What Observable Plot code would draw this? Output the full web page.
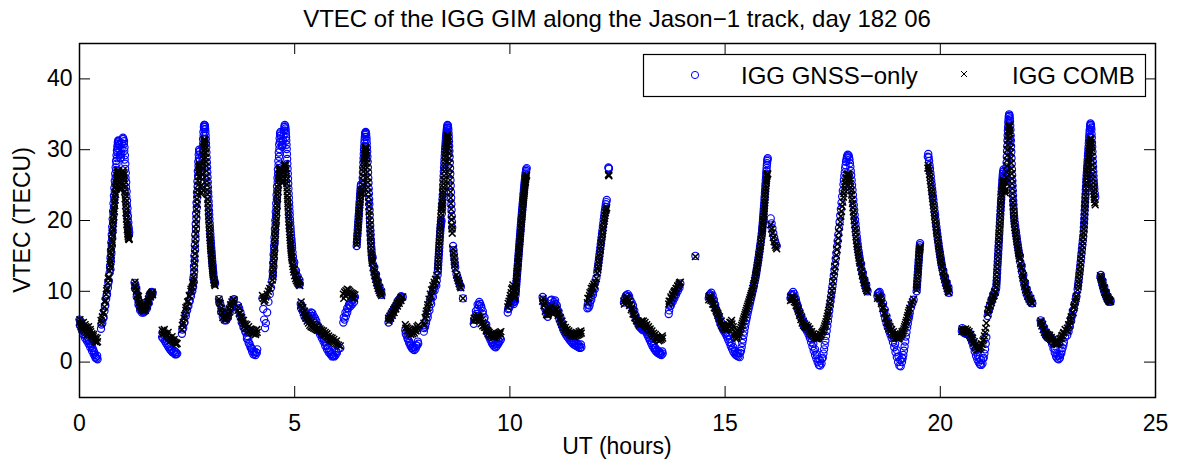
<!DOCTYPE html>
<html>
<head>
<meta charset="utf-8">
<script src="https://cdn.jsdelivr.net/npm/d3@7"></script>
<script src="https://cdn.jsdelivr.net/npm/@observablehq/plot@0.6"></script>
<style>
  html, body { margin: 0; padding: 0; background: #fff; }
  #chart { width: 1178px; height: 461px; }
  svg { font-family: "Liberation Sans", Arial, sans-serif; }
</style>
</head>
<body>
<div id="chart"></div>
<script>
// ---- texts ----
const titleText = "VTEC of the IGG GIM along the Jason\u22121 track, day 182 06";
const xLabel = "UT (hours)";
const yLabel = "VTEC (TECU)";
const seriesNames = ["IGG GNSS\u2212only", "IGG COMB"];
const xTicks = [0, 5, 10, 15, 20, 25];
const yTicks = [0, 10, 20, 30, 40];

// ---- data: [UT hours, GNSS-only VTEC, COMB VTEC] per Jason-1 pass ----
const pass01 = [[0.00,6.0,5.6],[0.02,5.8,5.3],[0.04,5.4,5.0],[0.06,5.0,4.6],[0.08,4.6,5.1],[0.10,4.3,4.8],[0.12,3.9,4.4],[0.14,4.3,5.0],[0.16,3.6,4.2],[0.18,3.2,3.9],[0.20,3.5,4.6],[0.22,3.0,4.1],[0.24,2.7,3.8],[0.26,2.5,4.3],[0.28,2.3,3.7],[0.30,2.0,3.4],[0.32,1.7,3.6],[0.34,1.4,3.2],[0.36,1.0,2.9],[0.38,0.7,3.1],[0.40,0.5,2.8],[0.42,0.4,2.9]];
const pass02 = [[0.50,4.7,5.9],[0.53,5.5,6.4],[0.56,6.3,7.0],[0.58,7.2,7.8],[0.60,8.0,8.7],[0.62,8.9,9.6],[0.64,9.6,10.4],[0.66,10.5,11.2],[0.68,11.5,12.0],[0.70,12.6,12.9],[0.71,13.6,13.8],[0.72,14.7,14.6],[0.73,15.8,15.5],[0.74,16.9,16.4],[0.75,18.0,17.3],[0.76,19.1,18.2],[0.77,20.2,19.1],[0.78,21.3,20.0],[0.79,22.4,20.9],[0.80,23.5,21.7],[0.81,24.6,22.5],[0.82,25.6,23.3],[0.83,26.6,24.0],[0.84,27.5,24.7],[0.85,28.4,25.3],[0.86,29.2,25.9],[0.87,29.9,26.4],[0.88,30.5,26.8],[0.89,31.0,27.0],[0.90,31.3,27.1],[0.91,31.2,26.8],[0.92,30.7,26.2],[0.93,30.0,25.5],[0.94,29.3,24.8],[0.95,28.8,24.3],[0.96,28.9,24.5],[0.97,29.4,25.2],[0.98,30.2,25.9],[0.99,30.9,26.5],[1.00,31.5,26.9],[1.01,31.7,27.0],[1.02,31.5,26.7],[1.03,30.8,26.0],[1.04,29.8,25.1],[1.05,28.6,24.1],[1.06,27.3,23.1],[1.07,26.0,22.1],[1.08,24.7,21.1],[1.09,23.4,20.2],[1.10,22.2,19.4],[1.11,21.1,18.7],[1.12,20.1,18.1],[1.13,19.3,17.7],[1.14,18.6,17.4],[1.15,18.0,17.3]];
const pass02b = [[0.72,13.1,13.4],[0.73,14.2,14.2],[0.74,15.3,15.1],[0.75,16.4,16.0],[0.76,17.5,16.9],[0.77,18.6,17.8],[0.78,19.7,18.7],[0.79,20.8,19.6],[0.80,21.9,20.5],[0.81,23.0,21.3],[0.82,24.1,22.1],[0.83,25.1,22.9],[0.84,26.1,23.7],[0.85,27.1,24.4],[0.86,28.0,25.0],[0.87,28.8,25.6],[0.88,29.6,26.2],[0.89,30.2,26.6],[0.90,30.8,26.9],[0.91,31.2,27.0],[1.035,31.2,26.4],[1.045,30.3,25.6],[1.055,29.2,24.6],[1.065,28.0,23.6],[1.075,26.7,22.6],[1.085,25.4,21.6],[1.095,24.1,20.7],[1.105,22.8,19.8],[1.115,21.7,19.1],[1.125,20.6,18.4],[1.135,19.7,17.9],[1.145,18.9,17.5],[1.155,18.3,17.4]];
const pass03 = [[1.28,11.2,10.8],[1.30,10.9,10.5],[1.32,10.3,10.0],[1.34,9.6,9.4],[1.36,9.0,8.9],[1.38,8.5,8.4],[1.40,8.0,8.0],[1.42,7.6,7.8],[1.44,7.3,7.6],[1.46,7.3,7.4],[1.48,7.2,7.5],[1.50,7.4,7.6],[1.52,7.5,7.7],[1.54,7.6,7.9],[1.56,7.8,8.2],[1.58,8.2,8.5],[1.60,8.7,8.9],[1.62,9.2,9.3],[1.64,9.6,9.5],[1.66,9.8,9.6],[1.68,9.9,9.7],[1.70,9.8,9.5]];
const pass04 = [[1.92,3.5,4.5],[1.95,3.3,4.3],[1.98,3.0,4.1],[2.01,2.7,4.0],[2.04,2.4,3.8],[2.07,2.1,3.5],[2.10,1.8,3.4],[2.13,1.6,3.2],[2.16,1.4,3.1],[2.19,1.3,2.9],[2.22,1.1,2.8],[2.25,1.1,2.7],[2.27,1.2,2.6]];
const pass05 = [[2.38,4.0,4.6],[2.41,4.8,5.6],[2.44,5.6,6.6],[2.47,6.5,7.3],[2.50,7.3,7.9],[2.53,7.9,8.6],[2.56,8.6,9.3],[2.59,9.3,10.0],[2.62,10.0,10.6],[2.64,10.6,11.1],[2.65,12.0,12.0],[2.66,13.5,13.3],[2.67,15.0,14.6],[2.68,16.5,16.0],[2.69,18.0,17.4],[2.70,19.5,18.8],[2.71,21.0,20.2],[2.72,22.5,21.6],[2.73,24.0,23.0],[2.74,25.5,24.3],[2.75,27.0,25.6],[2.76,28.3,26.7],[2.77,29.3,27.5],[2.78,30.0,28.0],[2.79,29.8,27.6],[2.80,28.6,26.2],[2.81,27.5,24.8],[2.82,26.8,23.8],[2.83,27.0,24.0],[2.84,27.8,25.0],[2.85,29.0,26.5],[2.86,30.3,28.0],[2.87,31.5,29.3],[2.88,32.5,30.4],[2.89,33.2,31.1],[2.90,33.5,31.5],[2.91,33.4,31.3],[2.92,32.9,30.6],[2.93,32.0,29.5],[2.94,30.9,28.3],[2.95,29.6,27.0],[2.96,28.2,25.6],[2.97,26.8,24.3],[2.98,25.4,23.0],[2.99,24.0,21.8],[3.00,22.7,20.6],[3.01,21.4,19.5],[3.02,20.2,18.5],[3.03,19.1,17.6],[3.04,18.1,16.8],[3.05,17.1,16.0],[3.06,16.2,15.3],[3.07,15.4,14.6],[3.08,14.6,13.9],[3.09,13.8,13.2],[3.10,13.1,12.6],[3.11,12.5,12.1],[3.12,12.0,11.6],[3.13,11.6,11.2],[3.14,11.3,11.0],[3.15,11.1,10.8]];
const pass05b = [[2.655,11.3,11.6],[2.665,12.8,12.7],[2.675,14.3,14.0],[2.685,15.8,15.3],[2.695,17.3,16.7],[2.705,18.8,18.1],[2.715,20.3,19.5],[2.725,21.8,20.9],[2.735,23.3,22.3],[2.745,24.8,23.7],[2.755,26.3,25.0],[2.765,27.7,26.2],[2.775,28.8,27.1],[2.785,29.7,27.8],[2.845,27.4,24.5],[2.855,28.4,25.8],[2.865,29.7,27.3],[2.875,30.9,28.7],[2.885,32.0,29.9],[2.895,32.9,30.8],[2.905,33.5,31.4],[2.915,33.2,31.0],[2.925,32.5,30.1],[2.935,31.5,28.9],[2.945,30.3,27.7],[2.955,28.9,26.3],[2.965,27.5,25.0],[2.975,26.1,23.7],[2.985,24.7,22.4],[2.995,23.4,21.2],[3.005,22.1,20.1],[3.015,20.8,19.0],[3.025,19.6,18.1],[3.035,18.6,17.2],[3.045,17.6,16.4],[3.055,16.7,15.7],[3.065,15.8,15.0],[3.075,15.0,14.3],[3.085,14.2,13.6],[3.095,13.5,12.9],[3.105,12.8,12.4]];
const pass06 = [[3.24,8.9,8.9],[3.27,8.2,8.3],[3.30,7.6,7.6],[3.33,7.0,7.0],[3.36,6.5,6.5],[3.39,6.2,6.1],[3.42,6.3,6.4],[3.45,6.8,6.9],[3.48,7.4,7.5],[3.51,7.9,8.1],[3.54,8.3,8.5],[3.57,8.7,8.8],[3.59,8.9,8.8]];
const pass07 = [[3.68,8.0,7.3],[3.71,7.6,6.9],[3.74,7.0,6.4],[3.77,6.2,5.9],[3.80,5.5,5.5],[3.83,4.8,5.1],[3.86,4.2,4.8],[3.89,3.7,4.7],[3.92,3.2,4.5],[3.95,2.6,4.4],[3.98,2.0,4.2],[4.01,1.5,4.1],[4.04,1.1,4.0],[4.07,1.2,4.3],[4.10,1.4,4.1],[4.13,1.8,4.2]];
const pass08 = [[4.25,9.0,9.4],[4.27,7.5,9.0],[4.29,6.0,8.6],[4.31,4.8,8.8],[4.33,5.5,9.2],[4.36,7.0,9.6],[4.39,8.5,10.0],[4.42,9.6,10.4],[4.45,10.5,10.9],[4.48,11.6,11.6],[4.49,12.8,12.6],[4.50,14.0,13.6],[4.51,15.2,14.6],[4.52,16.4,15.6],[4.53,17.6,16.6],[4.54,18.8,17.6],[4.55,20.0,18.6],[4.56,21.2,19.6],[4.57,22.4,20.6],[4.58,23.6,21.6],[4.59,24.8,22.6],[4.60,26.0,23.6],[4.61,27.2,24.6],[4.62,28.4,25.6],[4.63,29.6,26.4],[4.64,30.7,27.0],[4.65,31.6,27.3],[4.66,32.3,27.4],[4.67,32.5,27.2],[4.68,32.0,26.6],[4.69,31.2,25.9],[4.70,30.6,25.4],[4.71,30.4,25.3],[4.72,30.7,25.6],[4.73,31.3,26.2],[4.74,32.0,26.9],[4.75,32.7,27.4],[4.76,33.2,27.8],[4.77,33.5,28.0],[4.78,33.3,27.9],[4.79,32.7,27.4],[4.80,31.8,26.6],[4.81,30.7,25.7],[4.82,29.4,24.6],[4.83,28.0,23.5],[4.84,26.6,22.4],[4.85,25.2,21.3],[4.86,23.8,20.3],[4.87,22.5,19.3],[4.88,21.3,18.4],[4.89,20.2,17.6],[4.90,19.2,16.8],[4.91,18.3,16.1],[4.92,17.5,15.5],[4.93,16.8,14.9],[4.94,16.1,14.4],[4.95,15.5,13.9],[4.96,14.9,13.5],[4.97,14.3,13.1],[4.98,13.8,12.7],[5.00,13.1,12.2],[5.02,12.5,11.8],[5.04,12.0,11.5],[5.06,11.6,11.3],[5.08,11.3,11.1],[5.10,11.1,10.9],[5.12,11.0,10.8]];
const pass08b = [[4.495,12.2,12.1],[4.505,13.4,13.1],[4.515,14.6,14.1],[4.525,15.8,15.1],[4.535,17.0,16.1],[4.545,18.2,17.1],[4.555,19.4,18.1],[4.565,20.6,19.1],[4.575,21.8,20.1],[4.585,23.0,21.1],[4.595,24.2,22.1],[4.605,25.4,23.1],[4.615,26.6,24.1],[4.625,27.8,25.1],[4.635,29.0,26.0],[4.645,30.1,26.7],[4.655,31.1,27.2],[4.665,32.0,27.4],[4.785,33.0,27.7],[4.795,32.3,27.0],[4.805,31.3,26.2],[4.815,30.1,25.2],[4.825,28.7,24.1],[4.835,27.3,23.0],[4.845,25.9,21.9],[4.855,24.5,20.8],[4.865,23.2,19.8],[4.875,21.9,18.9],[4.885,20.8,18.0],[4.895,19.7,17.2],[4.905,18.8,16.5],[4.915,17.9,15.8],[4.925,17.2,15.2],[4.935,16.5,14.7]];
const pass09 = [[5.14,8.2,8.0],[5.17,7.9,7.6],[5.20,7.4,7.0],[5.23,7.0,6.6],[5.26,6.7,6.2],[5.29,6.5,5.8],[5.32,6.6,5.5],[5.35,6.8,5.2],[5.38,7.0,5.0],[5.41,6.9,4.9],[5.44,6.5,4.8],[5.47,6.2,4.7],[5.50,5.8,4.6],[5.53,5.2,4.5],[5.56,4.8,4.6],[5.59,4.4,4.4],[5.62,4.0,4.2],[5.65,3.6,4.0],[5.68,3.2,3.9],[5.71,2.8,3.8],[5.74,2.4,3.6],[5.77,2.0,3.4],[5.80,1.7,3.2],[5.83,1.4,3.1],[5.86,1.1,3.0],[5.89,0.9,2.9],[5.92,0.8,2.8],[5.95,1.0,2.6],[5.98,1.3,2.5],[6.02,1.9,2.4],[6.06,2.0,2.3]];
const pass10 = [[6.13,5.6,9.6],[6.16,6.0,9.9],[6.19,6.5,10.1],[6.22,7.0,10.3],[6.25,7.6,10.2],[6.28,8.1,10.0],[6.31,8.5,9.8],[6.34,8.8,9.7],[6.37,9.0,9.6],[6.40,9.2,9.5]];
const pass11 = [[6.44,16.4,16.6],[6.45,17.3,17.4],[6.46,18.2,18.2],[6.47,19.1,19.0],[6.48,20.0,19.8],[6.49,20.9,20.6],[6.50,21.8,21.4],[6.51,22.7,22.2],[6.52,23.6,23.0],[6.53,24.4,23.8],[6.54,25.1,24.3],[6.445,16.9,17.0],[6.455,17.8,17.8],[6.465,18.7,18.6],[6.475,19.6,19.4],[6.485,20.5,20.2],[6.495,21.4,21.0],[6.505,22.3,21.8],[6.515,23.2,22.6],[6.525,24.0,23.4],[6.535,24.8,24.1]];
const pass12 = [[6.57,24.5,23.8],[6.58,26.0,25.0],[6.59,27.5,26.3],[6.60,28.8,27.4],[6.61,30.0,28.4],[6.62,31.0,29.2],[6.63,31.8,29.8],[6.64,32.3,30.2],[6.65,32.5,30.4],[6.66,32.2,30.0],[6.67,31.4,29.2],[6.68,30.3,28.1],[6.69,29.0,26.8],[6.70,27.5,25.4],[6.71,26.0,24.0],[6.72,24.5,22.6],[6.73,23.0,21.3],[6.74,21.5,20.0],[6.75,20.0,18.8],[6.76,18.6,17.6],[6.77,17.3,16.5],[6.78,16.2,15.5],[6.79,15.3,14.7],[6.80,14.6,14.0],[6.82,13.8,13.3],[6.84,13.1,12.7],[6.86,12.5,12.2],[6.88,12.0,11.7],[6.90,11.5,11.2],[6.92,11.1,10.8],[6.94,10.7,10.4],[6.96,10.3,10.1],[6.98,10.0,9.8],[7.00,9.7,9.6],[7.02,9.5,9.4]];
const pass12b = [[6.575,25.3,24.4],[6.585,26.8,25.7],[6.595,28.2,26.9],[6.605,29.4,27.9],[6.615,30.5,28.8],[6.625,31.4,29.5],[6.635,32.1,30.0],[6.645,32.4,30.3],[6.665,31.8,29.6],[6.675,30.9,28.7],[6.685,29.7,27.5],[6.695,28.3,26.1],[6.705,26.8,24.7],[6.715,25.3,23.3],[6.725,23.8,22.0],[6.735,22.3,20.7],[6.745,20.8,19.4],[6.755,19.3,18.2],[6.765,18.0,17.1],[6.775,16.8,16.0],[6.785,15.8,15.1],[6.795,15.0,14.4]];
const pass13 = [[7.18,5.6,6.2],[7.21,6.0,6.5],[7.24,6.4,6.8],[7.27,6.8,7.1],[7.30,7.2,7.4],[7.33,7.6,7.7],[7.36,7.9,8.0],[7.39,8.2,8.3],[7.42,8.5,8.6],[7.45,8.8,8.9],[7.48,9.1,9.1],[7.51,9.2,9.2]];
const pass14 = [[7.57,4.5,5.3],[7.60,3.8,5.0],[7.63,3.2,4.8],[7.66,2.7,4.6],[7.69,2.3,4.4],[7.72,2.0,4.3],[7.75,1.8,4.3],[7.78,1.7,4.5],[7.81,1.9,4.7],[7.84,2.3,5.0],[7.87,2.6,5.2]];
const pass15 = [[8.00,4.3,5.5],[8.03,5.0,6.3],[8.06,5.9,7.2],[8.09,6.8,8.1],[8.12,7.7,8.9],[8.15,8.5,9.6],[8.18,9.3,10.2],[8.21,10.0,10.8],[8.24,10.6,11.3],[8.27,11.0,11.7],[8.30,11.5,12.2],[8.32,12.3,13.0],[8.33,13.2,14.0],[8.34,14.2,15.0],[8.35,15.2,16.0],[8.36,16.2,17.0],[8.37,17.2,18.0],[8.38,18.2,19.0],[8.39,19.0,20.0],[8.40,19.5,21.0],[8.41,20.0,22.0],[8.42,21.0,21.8],[8.43,22.3,22.5],[8.44,23.6,23.3],[8.45,25.0,24.2],[8.46,26.3,25.2],[8.47,27.5,26.3],[8.48,28.6,27.4],[8.49,29.6,28.4],[8.50,30.5,29.3],[8.51,31.3,30.1],[8.52,32.0,30.8],[8.53,32.6,31.4],[8.54,33.1,31.8],[8.55,33.5,32.1],[8.56,33.4,31.9],[8.57,32.8,31.2],[8.58,31.8,30.1],[8.59,30.5,28.8],[8.60,29.0,27.3],[8.61,27.4,25.7],[8.62,25.7,24.0],[8.63,24.0,22.4],[8.64,22.3,20.8],[8.65,20.6,19.3],[8.66,19.0,18.2],[8.68,16.4,16.0],[8.69,15.8,15.4],[8.70,15.2,14.8],[8.71,14.6,14.2],[8.72,14.0,13.7],[8.73,13.4,13.2],[8.76,12.4,12.3],[8.78,12.0,11.9],[8.80,11.6,11.5],[8.82,11.2,11.1],[8.84,10.8,10.7],[8.86,10.6,10.5],[8.91,9.0,9.0]];
const pass15b = [[8.325,12.8,13.5],[8.335,13.7,14.5],[8.345,14.7,15.5],[8.355,15.7,16.5],[8.365,16.7,17.5],[8.375,17.7,18.5],[8.385,18.6,19.5],[8.395,19.3,20.5],[8.405,19.8,21.5],[8.425,21.7,22.2],[8.435,23.0,22.9],[8.445,24.3,23.8],[8.455,25.7,24.7],[8.465,26.9,25.8],[8.475,28.1,26.9],[8.485,29.1,27.9],[8.495,30.1,28.9],[8.505,30.9,29.7],[8.515,31.7,30.5],[8.525,32.3,31.1],[8.535,32.9,31.6],[8.545,33.3,32.0],[8.565,33.1,31.6],[8.575,32.3,30.7],[8.585,31.2,29.5],[8.595,29.8,28.1],[8.605,28.2,26.5],[8.615,26.6,24.9],[8.625,24.9,23.2],[8.635,23.2,21.6],[8.645,21.5,20.1],[8.655,19.8,18.8]];
const pass16 = [[9.16,5.4,5.8],[9.19,6.0,6.2],[9.22,6.8,6.4],[9.25,7.5,6.6],[9.28,8.0,6.5],[9.31,8.2,6.3],[9.34,7.6,5.9],[9.37,6.8,5.6],[9.40,6.0,5.2],[9.43,5.3,4.9],[9.46,4.6,4.6],[9.49,4.0,4.4],[9.52,3.5,4.2],[9.55,3.1,4.0],[9.58,2.7,3.9],[9.61,2.4,3.8],[9.64,2.2,3.8],[9.67,2.1,3.9],[9.70,2.3,4.0],[9.73,2.6,4.1],[9.76,2.9,4.2],[9.79,3.2,4.3]];
const pass17 = [[9.95,7.0,7.8],[9.98,7.6,8.6],[10.01,8.3,9.4],[10.04,8.8,10.3],[10.07,8.4,10.9],[10.09,8.2,10.0],[10.10,8.5,9.0],[10.12,8.6,9.4],[10.13,9.4,10.0],[10.14,10.2,10.7],[10.15,11.0,11.4],[10.16,11.8,12.1],[10.17,12.6,12.8],[10.18,13.4,13.5],[10.19,14.2,14.2],[10.20,15.0,14.9],[10.21,15.8,15.6],[10.22,16.6,16.3],[10.23,17.4,17.0],[10.24,18.2,17.7],[10.25,19.0,18.4],[10.26,19.7,19.1],[10.27,20.4,19.8],[10.28,21.1,20.5],[10.29,21.8,21.2],[10.30,22.5,21.9],[10.31,23.2,22.6],[10.32,23.9,23.2],[10.33,24.6,23.8],[10.34,25.2,24.4],[10.35,25.8,25.0],[10.36,26.3,25.5],[10.37,26.8,26.0],[10.38,27.2,26.3],[10.39,27.4,26.4]];
const pass17b = [[10.135,9.8,10.4],[10.145,10.6,11.1],[10.155,11.4,11.8],[10.165,12.2,12.5],[10.175,13.0,13.2],[10.185,13.8,13.9],[10.195,14.6,14.6],[10.205,15.4,15.3],[10.215,16.2,16.0],[10.225,17.0,16.7],[10.235,17.8,17.4],[10.245,18.6,18.1],[10.255,19.4,18.8],[10.265,20.1,19.5],[10.275,20.8,20.2],[10.285,21.5,20.9],[10.295,22.2,21.6],[10.305,22.9,22.3],[10.315,23.6,22.9],[10.325,24.3,23.5],[10.335,24.9,24.1],[10.345,25.5,24.7],[10.355,26.1,25.3],[10.365,26.6,25.8],[10.375,27.0,26.2]];
const pass18 = [[10.76,9.2,8.6],[10.79,8.4,8.0],[10.82,7.5,7.2],[10.85,6.8,6.7],[10.88,6.4,6.6],[10.91,7.4,7.0],[10.94,8.7,7.6],[10.97,8.3,7.3],[11.00,7.6,6.8],[11.03,8.5,7.1],[11.06,8.2,7.4],[11.09,7.5,7.0],[11.12,6.8,6.6],[11.15,6.1,6.1],[11.18,5.6,5.7],[11.21,5.1,5.3],[11.24,4.6,4.9],[11.27,4.2,4.6],[11.30,3.9,4.4],[11.33,3.6,4.2],[11.36,3.4,4.1],[11.39,3.1,3.9],[11.42,2.9,3.8],[11.45,2.7,3.7],[11.48,2.5,3.6],[11.51,2.4,3.6],[11.54,2.3,3.7],[11.57,2.2,3.8],[11.60,2.1,3.9],[11.63,2.0,4.0],[11.66,2.1,4.1]];
const pass19 = [[11.80,7.6,8.4],[11.83,7.7,9.0],[11.86,8.4,9.8],[11.89,9.2,10.4],[11.92,9.8,10.7],[11.95,10.5,11.0],[11.98,11.2,11.3],[12.01,11.9,11.8],[12.03,12.7,12.6],[12.05,13.6,13.5],[12.07,14.6,14.4],[12.09,15.6,15.3],[12.11,16.6,16.3],[12.13,17.6,17.2],[12.15,18.6,18.1],[12.17,19.6,19.0],[12.19,20.6,19.9],[12.21,21.5,20.7],[12.23,22.3,21.4],[12.25,22.9,21.8],[12.29,27.5,26.5],[12.30,27.3,26.3],[12.295,27.4,26.4]];
const pass19b = [[12.04,13.2,13.1],[12.06,14.1,14.0],[12.08,15.1,14.9],[12.10,16.1,15.8],[12.12,17.1,16.8],[12.14,18.1,17.7],[12.16,19.1,18.6],[12.18,20.1,19.5],[12.20,21.1,20.3],[12.22,21.9,21.1],[12.24,22.6,21.6]];
const pass20 = [[12.65,8.4,8.6],[12.68,8.9,9.0],[12.71,9.4,9.2],[12.74,9.6,9.0],[12.77,9.3,8.6],[12.80,8.7,8.1],[12.83,8.4,7.7],[12.86,8.0,7.2],[12.89,7.3,6.7],[12.92,6.6,6.2],[12.95,6.0,5.8],[12.98,5.4,5.4],[13.01,5.0,5.2],[13.04,4.8,5.3],[13.07,4.6,5.5],[13.10,4.5,5.4],[13.13,4.5,5.2],[13.16,4.3,5.0],[13.19,3.9,4.8],[13.22,3.5,4.6],[13.25,3.1,4.4],[13.28,2.7,4.1],[13.31,2.3,3.9],[13.34,2.0,3.7],[13.37,1.7,3.5],[13.40,1.5,3.3],[13.43,1.3,3.2],[13.46,1.2,3.0],[13.49,1.1,3.1],[13.52,1.0,3.2],[13.55,1.2,3.4]];
const pass21 = [[13.69,6.8,8.2],[13.72,7.9,8.6],[13.75,8.4,9.0],[13.78,8.8,9.4],[13.81,9.2,9.8],[13.84,9.6,10.1],[13.87,10.0,10.4],[13.90,10.4,10.7],[13.93,10.8,11.0],[13.96,11.1,11.3],[14.31,15.0,14.9]];
const pass22 = [[14.62,9.0,8.8],[14.65,9.6,9.2],[14.68,9.8,9.0],[14.71,9.4,8.6],[14.74,8.8,8.1],[14.77,8.1,7.6],[14.80,7.3,7.1],[14.83,6.6,6.6],[14.86,6.0,6.1],[14.89,5.4,5.6],[14.92,5.0,5.2],[14.95,4.6,4.9],[14.98,4.3,4.7],[15.01,4.0,4.5],[15.04,3.6,4.6],[15.07,3.2,4.8],[15.10,2.8,5.2],[15.13,2.3,5.6],[15.16,1.9,5.4],[15.19,1.5,4.6],[15.22,1.2,3.8],[15.25,1.0,3.3],[15.28,0.9,3.4],[15.31,0.8,3.8],[15.34,0.7,4.3],[15.37,1.6,4.9],[15.40,2.7,5.5],[15.43,3.8,6.1],[15.46,4.9,6.7],[15.49,5.9,7.3],[15.52,6.8,7.9],[15.55,7.6,8.5],[15.58,8.4,9.1],[15.61,9.2,9.7],[15.64,10.0,10.4],[15.67,10.8,11.1],[15.70,11.7,11.9],[15.72,12.4,12.6],[15.74,13.2,13.3],[15.76,14.0,14.0],[15.78,14.8,14.8],[15.80,15.7,15.6],[15.82,16.6,16.4],[15.84,17.6,17.3],[15.86,18.6,18.2],[15.87,19.3,18.8],[15.88,20.1,19.5],[15.89,20.9,20.2],[15.90,21.7,20.9],[15.91,22.5,21.7],[15.92,23.4,22.5],[15.93,24.3,23.3],[15.94,25.2,24.1],[15.95,26.1,24.9],[15.96,27.0,25.6],[15.97,27.8,26.2],[15.98,28.4,26.5],[15.99,28.8,26.6]];
const pass22b = [[15.385,2.1,5.2],[15.415,3.2,5.8],[15.445,4.3,6.4],[15.475,5.4,7.0],[15.505,6.3,7.6],[15.535,7.2,8.2],[15.565,8.0,8.8],[15.595,8.8,9.4],[15.625,9.6,10.0],[15.655,10.4,10.8],[15.685,11.3,11.5],[15.71,12.1,12.3],[15.73,12.8,12.9],[15.75,13.6,13.7],[15.77,14.4,14.4],[15.79,15.3,15.2],[15.81,16.2,16.0],[15.83,17.1,16.9],[15.85,18.1,17.8],[15.865,19.0,18.5],[15.875,19.7,19.2],[15.885,20.5,19.9],[15.895,21.3,20.6],[15.905,22.1,21.3],[15.915,23.0,22.1],[15.925,23.9,22.9],[15.935,24.8,23.7],[15.945,25.7,24.5],[15.955,26.6,25.3],[15.965,27.4,25.9],[15.975,28.1,26.4],[15.985,28.6,26.6]];
const pass23 = [[16.06,20.3,19.4],[16.08,19.6,18.8],[16.10,18.9,18.2],[16.12,18.2,17.6],[16.14,17.6,17.0],[16.16,17.1,16.5],[16.18,16.7,16.2],[16.20,16.4,16.0]];
const pass24 = [[16.52,9.0,8.7],[16.55,9.6,9.1],[16.58,9.9,9.2],[16.61,9.6,8.9],[16.64,9.0,8.4],[16.67,8.2,7.8],[16.70,7.4,7.2],[16.73,6.8,6.6],[16.76,6.3,6.0],[16.79,5.8,5.5],[16.82,5.3,5.2],[16.85,4.9,5.0],[16.88,4.6,4.9],[16.91,4.3,4.8],[16.94,3.9,4.6],[16.97,3.4,4.3],[17.00,2.8,4.0],[17.03,2.2,3.8],[17.06,1.6,3.6],[17.09,1.0,3.4],[17.12,0.5,3.3],[17.15,0.0,3.3],[17.18,-0.4,3.4],[17.21,-0.5,3.6],[17.24,-0.2,3.9],[17.27,0.6,4.3],[17.30,1.8,4.8],[17.33,3.0,5.4],[17.36,4.4,6.1],[17.39,5.8,6.9],[17.42,7.2,7.8],[17.45,8.6,8.9],[17.48,10.0,10.1],[17.51,11.5,11.4],[17.54,13.0,12.8],[17.57,14.6,14.3],[17.60,16.3,15.9],[17.63,18.0,17.5],[17.66,19.8,19.1],[17.69,21.6,20.6],[17.72,23.4,22.0],[17.75,25.1,23.3],[17.77,26.3,24.3],[17.79,27.4,25.2],[17.81,28.3,25.9],[17.83,28.9,26.4],[17.85,29.3,26.6],[17.87,29.2,26.5],[17.89,28.6,26.0],[17.91,27.6,25.2],[17.93,26.4,24.2],[17.95,25.0,23.0],[17.97,23.6,21.8],[17.99,22.2,20.6],[18.01,20.8,19.4],[18.03,19.5,18.3],[18.05,18.3,17.2],[18.07,17.2,16.3],[18.09,16.2,15.5],[18.11,15.3,14.7],[18.13,14.5,14.0],[18.15,13.8,13.4],[18.17,13.1,12.8],[18.19,12.5,12.2],[18.21,11.9,11.7],[18.23,11.4,11.2],[18.25,10.9,10.8],[18.27,10.5,10.4],[18.29,10.2,10.1],[18.31,10.0,9.9]];
const pass24b = [[17.285,1.2,4.5],[17.315,2.4,5.1],[17.345,3.7,5.7],[17.375,5.1,6.5],[17.405,6.5,7.3],[17.435,7.9,8.3],[17.465,9.3,9.5],[17.495,10.7,10.7],[17.525,12.2,12.1],[17.555,13.8,13.5],[17.585,15.4,15.1],[17.615,17.1,16.7],[17.645,18.9,18.3],[17.675,20.7,19.8],[17.705,22.5,21.3],[17.735,24.2,22.6],[17.76,25.7,23.8],[17.78,26.8,24.7],[17.80,27.8,25.5],[17.82,28.6,26.1],[17.84,29.1,26.5],[17.88,28.9,26.3],[17.90,28.1,25.6],[17.92,27.0,24.7],[17.94,25.7,23.6],[17.96,24.3,22.4],[17.98,22.9,21.2],[18.00,21.5,20.0],[18.02,20.1,18.8],[18.04,18.9,17.7],[18.06,17.7,16.7],[18.08,16.7,15.9],[18.10,15.7,15.1],[18.12,14.9,14.3]];
const pass25 = [[18.54,9.3,9.0],[18.57,9.8,9.2],[18.60,9.5,8.9],[18.63,8.8,8.3],[18.66,7.9,7.6],[18.69,7.0,6.9],[18.72,6.2,6.2],[18.75,5.5,5.6],[18.78,4.9,5.1],[18.81,4.4,4.7],[18.84,3.9,4.4],[18.87,3.4,4.1],[18.90,2.8,3.9],[18.93,2.1,3.7],[18.96,1.4,3.5],[18.99,0.7,3.4],[19.02,0.0,3.3],[19.05,-0.5,3.4],[19.08,-0.6,3.6],[19.11,0.0,3.9],[19.14,1.0,4.4],[19.17,2.2,5.0],[19.20,3.6,5.6],[19.23,4.9,6.3],[19.26,6.0,7.0],[19.29,6.9,7.6],[19.32,7.7,8.1],[19.35,8.3,8.5],[19.38,8.8,8.9],[19.125,0.5,4.1],[19.155,1.6,4.7],[19.185,2.9,5.3],[19.215,4.2,5.9],[19.245,5.4,6.6],[19.275,6.4,7.3]];
const pass26 = [[19.45,10.0,10.2],[19.46,10.9,11.0],[19.47,11.8,11.9],[19.48,12.7,12.8],[19.49,13.6,13.6],[19.50,14.5,14.4],[19.51,15.4,15.2],[19.52,16.2,15.9],[19.53,16.8,16.3],[19.455,10.5,10.6],[19.465,11.4,11.5],[19.475,12.3,12.4],[19.485,13.2,13.2],[19.495,14.1,14.0],[19.505,15.0,14.8],[19.515,15.8,15.6],[19.525,16.5,16.1]];
const pass27 = [[19.71,29.0,27.4],[19.72,29.4,27.8],[19.74,28.4,27.0],[19.76,27.3,26.1],[19.78,26.2,25.1],[19.80,25.1,24.1],[19.82,24.0,23.1],[19.84,22.9,22.1],[19.86,21.8,21.1],[19.88,20.7,20.1],[19.90,19.6,19.1],[19.92,18.6,18.2],[19.94,17.6,17.3],[19.96,16.7,16.4],[19.98,15.8,15.6],[20.00,15.0,14.8],[20.02,14.2,14.1],[20.04,13.5,13.4],[20.06,12.9,12.8],[20.08,12.3,12.2],[20.10,11.8,11.7],[20.12,11.3,11.2],[20.14,10.9,10.8],[20.16,10.5,10.4],[20.18,10.1,10.0],[20.20,9.8,9.8]];
const pass27b = [[19.73,28.9,27.4],[19.75,27.8,26.5],[19.77,26.7,25.6],[19.79,25.6,24.6],[19.81,24.5,23.6],[19.83,23.4,22.6],[19.85,22.3,21.6],[19.87,21.2,20.6],[19.89,20.1,19.6],[19.91,19.1,18.6],[19.93,18.1,17.7],[19.95,17.1,16.8],[19.97,16.2,16.0],[19.99,15.4,15.2],[20.01,14.6,14.4],[20.03,13.8,13.7]];
const pass28 = [[20.50,4.4,4.3],[20.53,4.2,4.4],[20.56,4.1,4.4],[20.59,4.0,4.3],[20.62,4.0,4.2],[20.65,3.9,4.1],[20.68,3.7,3.8],[20.71,3.3,3.5],[20.74,2.8,3.1],[20.77,2.2,2.7],[20.80,1.5,2.3],[20.83,0.9,2.0],[20.86,0.4,1.8],[20.89,0.0,1.8],[20.92,-0.3,1.9],[20.95,-0.4,2.1],[20.98,-0.2,2.5],[21.01,0.6,3.2],[21.04,1.8,4.2],[21.07,3.5,5.5],[21.025,1.2,3.7],[21.055,2.6,4.8]];
const pass29 = [[21.10,6.5,6.8],[21.13,7.3,7.4],[21.16,8.0,7.9],[21.19,8.6,8.4],[21.22,9.1,8.9],[21.25,9.5,9.4],[21.28,9.9,9.9],[21.30,10.5,10.6],[21.31,11.5,11.6],[21.32,12.6,12.7],[21.33,13.7,13.8],[21.34,14.8,14.9],[21.35,15.9,16.0],[21.36,17.0,17.1],[21.37,18.1,18.2],[21.38,19.2,19.3],[21.39,20.3,20.4],[21.40,21.4,21.4],[21.41,22.5,22.4],[21.42,23.6,23.3],[21.43,24.6,24.1],[21.44,25.5,24.8],[21.45,26.3,25.3],[21.46,26.9,25.6],[21.47,27.2,25.7],[21.48,27.0,25.4],[21.49,26.4,24.8],[21.50,25.8,24.2],[21.51,25.5,23.9],[21.52,25.8,24.3],[21.53,26.8,25.4],[21.54,28.2,26.9],[21.55,29.8,28.5],[21.56,31.3,30.0],[21.57,32.7,31.4],[21.58,33.8,32.5],[21.59,34.6,33.2],[21.60,35.0,33.5],[21.61,34.8,33.2],[21.62,34.0,32.3],[21.63,32.8,31.0],[21.64,31.3,29.6],[21.65,29.7,28.1],[21.66,28.0,26.6],[21.67,26.4,25.2],[21.68,24.9,23.8],[21.69,23.5,22.5],[21.70,22.2,21.3],[21.71,21.1,20.3],[21.72,20.2,19.5],[21.74,19.2,18.6],[21.76,18.3,17.8],[21.78,17.4,17.0],[21.80,16.5,16.2],[21.82,15.7,15.4],[21.84,14.9,14.6],[21.86,14.1,13.9],[21.88,13.4,13.2],[21.90,12.7,12.5],[21.92,12.0,11.9],[21.94,11.4,11.3],[21.96,10.8,10.7],[21.98,10.3,10.2],[22.00,9.8,9.8],[22.03,9.3,9.3],[22.06,8.9,8.9],[22.09,8.6,8.6],[22.12,8.4,8.4],[22.14,8.3,8.3]];
const pass29b = [[21.305,11.0,11.1],[21.315,12.0,12.1],[21.325,13.1,13.2],[21.335,14.2,14.3],[21.345,15.3,15.4],[21.355,16.4,16.5],[21.365,17.5,17.6],[21.375,18.6,18.7],[21.385,19.7,19.8],[21.395,20.8,20.9],[21.405,21.9,21.9],[21.415,23.0,22.8],[21.425,24.1,23.7],[21.435,25.0,24.4],[21.445,25.9,25.0],[21.455,26.6,25.4],[21.535,27.5,26.1],[21.545,29.0,27.7],[21.555,30.5,29.2],[21.565,32.0,30.7],[21.575,33.2,31.9],[21.585,34.2,32.8],[21.595,34.8,33.3],[21.615,34.4,32.7],[21.625,33.4,31.6],[21.635,32.0,30.3],[21.645,30.5,28.8],[21.655,28.8,27.3],[21.665,27.2,25.9],[21.675,25.6,24.5],[21.685,24.2,23.1],[21.695,22.8,21.9],[21.705,21.6,20.8],[21.715,20.6,19.9],[21.73,19.7,19.0],[21.75,18.7,18.2],[21.77,17.8,17.4],[21.79,16.9,16.6],[21.81,16.1,15.8],[21.83,15.3,15.0]];
const pass30 = [[22.33,5.9,5.5],[22.36,5.6,5.1],[22.39,5.0,4.6],[22.42,4.3,4.2],[22.45,3.8,3.9],[22.48,3.5,3.7],[22.51,3.4,3.5],[22.54,3.3,3.4],[22.57,3.0,3.2],[22.60,2.5,3.0],[22.63,1.9,2.8],[22.66,1.3,2.6],[22.69,0.8,2.5],[22.72,0.5,2.5],[22.75,0.4,2.7],[22.78,0.6,3.0],[22.81,1.2,3.4],[22.84,2.0,3.8],[22.87,2.8,4.2],[22.90,3.5,4.6]];
const pass31 = [[22.95,3.8,4.8],[22.98,4.3,5.3],[23.01,5.0,5.8],[23.04,5.8,6.4],[23.07,6.6,7.0],[23.10,7.4,7.7],[23.13,8.3,8.5],[23.16,9.3,9.3],[23.19,10.3,10.2],[23.21,11.3,11.2],[23.23,12.4,12.3],[23.25,13.5,13.4],[23.27,14.7,14.6],[23.29,15.9,15.8],[23.31,17.1,17.0],[23.33,18.4,18.2],[23.34,19.6,19.4],[23.35,20.8,20.6],[23.36,22.0,21.8],[23.37,23.2,22.9],[23.38,24.3,24.0],[23.39,25.4,25.0],[23.40,26.4,25.9],[23.41,27.3,26.7],[23.42,28.2,27.4],[23.43,29.1,28.1],[23.44,30.0,28.8],[23.45,30.9,29.5],[23.46,31.8,30.2],[23.47,32.6,30.8],[23.48,33.3,31.3],[23.49,33.7,31.6],[23.50,33.5,31.4],[23.51,32.8,30.7],[23.52,31.7,29.7],[23.53,30.4,28.5],[23.54,29.0,27.2],[23.55,27.6,25.9],[23.56,26.3,24.7],[23.57,25.2,23.7],[23.58,24.4,23.0],[23.59,23.8,22.5],[23.60,23.3,22.2]];
const pass31b = [[23.20,10.8,10.7],[23.22,11.8,11.7],[23.24,12.9,12.8],[23.26,14.1,14.0],[23.28,15.3,15.2],[23.30,16.5,16.4],[23.32,17.7,17.6],[23.335,19.0,18.8],[23.345,20.2,20.0],[23.355,21.4,21.2],[23.365,22.6,22.3],[23.375,23.7,23.4],[23.385,24.8,24.5],[23.395,25.9,25.4],[23.405,26.8,26.3],[23.415,27.7,27.0],[23.425,28.6,27.7],[23.435,29.5,28.4],[23.445,30.4,29.1],[23.455,31.3,29.8],[23.465,32.2,30.5],[23.475,32.9,31.0],[23.485,33.5,31.4],[23.505,33.1,31.0],[23.515,32.2,30.2],[23.525,31.0,29.1],[23.535,29.7,27.8],[23.545,28.3,26.5],[23.555,26.9,25.3],[23.565,25.7,24.2],[23.575,24.8,23.3]];
const pass32 = [[23.72,12.0,12.2],[23.74,11.6,11.7],[23.76,11.1,11.2],[23.78,10.6,10.8],[23.80,10.2,10.3],[23.82,9.8,9.9],[23.84,9.5,9.6],[23.86,9.2,9.3],[23.88,8.9,9.0],[23.90,8.7,8.8],[23.92,8.5,8.6],[23.94,8.5,8.5],[23.96,8.6,8.6]];

// ---- extra along-track samples (spread of the bands between peaks) ----
const spreadA = [[0.01,5.2,6.0],[0.05,4.6,5.5],[0.09,3.9,5.6],[0.13,3.4,5.3],[0.17,3.0,4.9],[0.21,2.6,5.0],[0.25,2.1,4.6],[0.29,1.6,4.0],[0.33,1.1,3.9],[0.37,0.6,3.5],[0.41,0.9,3.4],[0.51,5.3,5.5],[0.55,6.2,6.9],[0.59,7.9,8.5],[0.63,9.4,10.1],[0.67,11.2,11.8],[1.29,10.4,11.3],[1.33,9.2,10.2],[1.37,8.1,9.3],[1.41,7.3,8.4],[1.45,7.0,7.9],[1.49,7.0,7.2],[1.53,7.2,7.3],[1.57,7.6,8.0],[1.61,8.3,8.6],[1.65,9.3,9.2],[1.69,9.5,9.9],[1.93,4.2,4.0],[1.97,3.8,4.6],[2.02,3.2,3.6],[2.06,2.6,4.2],[2.11,2.2,3.0],[2.15,1.8,3.6],[2.20,1.6,3.2],[2.24,1.4,2.5],[2.39,4.6,5.2],[2.43,5.6,6.2],[2.47,6.9,7.7],[2.51,7.9,8.5],[2.55,8.7,9.4],[2.59,9.6,10.3],[2.63,10.7,11.3]];
const spreadB = [[3.25,8.4,8.5],[3.29,7.1,7.2],[3.33,6.4,6.3],[3.37,5.9,6.0],[3.41,5.9,6.1],[3.45,6.3,6.5],[3.49,7.0,7.1],[3.53,7.7,7.8],[3.57,8.3,8.3],[3.69,7.4,7.8],[3.73,6.5,6.9],[3.77,5.6,6.3],[3.81,4.9,5.9],[3.85,4.4,5.4],[3.89,3.3,5.3],[3.93,2.7,5.0],[3.97,2.2,4.7],[4.01,1.9,4.6],[4.05,1.5,4.5],[4.09,1.0,3.9],[4.12,1.3,4.6],[4.99,14.1,13.1],[5.03,12.9,12.2],[5.07,12.1,11.7],[5.11,11.6,11.3]];
const spreadC = [[5.15,7.6,8.5],[5.19,7.1,7.7],[5.23,6.4,7.2],[5.27,6.1,6.6],[5.31,6.1,6.2],[5.35,6.3,5.9],[5.39,6.5,5.6],[5.43,6.1,5.4],[5.47,5.6,5.2],[5.51,5.2,5.1],[5.55,4.4,4.9],[5.59,3.9,4.7],[5.63,3.4,4.5],[5.67,2.9,4.4],[5.71,2.3,4.2],[5.75,1.8,4.0],[5.79,1.4,3.7],[5.83,1.1,3.5],[5.87,0.8,3.4],[5.91,0.9,3.2],[5.97,1.5,3.0],[6.14,6.3,9.0],[6.18,7.0,9.4],[6.22,7.6,9.7],[6.26,8.1,9.6],[6.30,7.9,9.3],[6.34,8.2,9.1],[6.38,8.5,9.0],[6.81,14.8,14.3],[6.85,13.4,13.1],[6.89,12.4,12.1],[6.93,11.5,11.2],[6.97,10.7,10.5],[7.01,10.1,9.9]];
const spreadD = [[7.19,6.2,5.8],[7.23,6.7,6.2],[7.27,7.2,6.6],[7.31,7.6,7.0],[7.35,8.0,7.5],[7.39,8.6,7.9],[7.43,8.9,8.3],[7.47,9.3,8.7],[7.58,4.0,4.8],[7.62,3.4,4.4],[7.66,2.9,4.1],[7.70,2.5,3.9],[7.74,2.2,4.0],[7.78,2.1,4.1],[7.82,2.4,4.4],[7.86,2.9,4.7],[8.01,4.8,5.2],[8.05,5.5,6.8],[8.09,6.3,7.7],[8.13,7.3,8.5],[8.17,8.2,9.3],[8.21,9.2,10.3],[8.25,10.1,11.0],[8.29,10.8,11.6]];
const spreadE = [[9.17,6.0,6.2],[9.21,7.2,6.0],[9.25,8.1,6.2],[9.29,8.5,6.0],[9.33,7.9,5.4],[9.37,7.2,5.1],[9.41,6.3,4.9],[9.45,5.3,4.4],[9.49,4.5,4.0],[9.53,3.8,3.8],[9.57,3.2,3.6],[9.61,2.8,3.5],[9.65,2.5,3.5],[9.69,2.6,3.6],[9.73,2.9,3.8],[9.77,3.4,4.0],[9.96,7.5,8.3],[10.00,8.0,9.0],[10.03,8.6,9.8],[10.06,8.9,10.5],[10.09,8.8,9.6],[10.11,8.9,9.2]];
const spreadF = [[10.77,8.8,9.0],[10.81,7.9,8.4],[10.85,7.2,7.6],[10.89,6.9,6.9],[10.93,7.9,7.4],[10.97,8.8,7.9],[11.01,8.1,7.2],[11.05,8.7,7.7],[11.09,8.0,7.4],[11.13,7.2,6.9],[11.17,6.4,6.3],[11.21,5.6,5.8],[11.25,5.0,5.3],[11.29,4.5,4.9],[11.33,4.1,4.6],[11.37,3.8,4.4],[11.41,3.4,4.2],[11.45,3.1,4.1],[11.49,2.9,4.0],[11.53,2.7,4.0],[11.57,2.6,4.1],[11.61,2.4,4.3],[11.65,2.5,4.4],[11.81,8.1,9.0],[11.85,8.0,9.4],[11.89,8.8,10.0],[11.93,9.5,10.4],[11.97,10.3,10.8]];
const spreadG = [[12.66,8.9,8.2],[12.70,9.4,8.7],[12.74,9.2,8.5],[12.78,8.8,8.0],[12.82,8.0,7.4],[12.86,7.4,6.8],[12.90,6.7,6.3],[12.94,6.0,5.9],[12.98,5.6,5.8],[13.02,5.3,5.6],[13.06,5.0,5.8],[13.10,4.9,5.8],[13.14,4.7,5.6],[13.18,4.2,5.3],[13.22,3.8,5.0],[13.26,3.4,4.7],[13.30,2.9,4.4],[13.34,2.4,4.1],[13.38,2.0,3.9],[13.42,1.7,3.6],[13.46,1.5,3.4],[13.50,1.3,3.5],[13.54,1.5,3.7],[13.70,7.3,8.6],[13.74,8.0,9.2],[13.78,8.5,9.6],[13.82,9.0,10.0],[13.86,9.5,10.4],[13.90,10.0,10.8],[13.94,10.5,11.2]];
const spreadH = [[14.63,9.4,9.3],[14.67,9.4,8.7],[14.71,8.9,8.2],[14.75,8.2,7.7],[14.79,7.5,7.3],[14.83,6.9,6.9],[14.87,6.2,6.4],[14.91,5.6,5.8],[14.95,5.1,5.3],[14.99,4.7,5.0],[15.03,4.2,4.9],[15.07,3.8,5.2],[15.11,3.3,5.6],[15.15,2.7,5.9],[15.19,2.1,5.0],[15.23,1.6,4.2],[15.27,1.3,3.8],[15.31,1.2,4.2],[15.35,1.3,4.6],[16.53,9.5,9.2],[16.57,9.4,8.8],[16.61,9.1,8.5],[16.65,8.6,8.0],[16.69,7.9,7.5],[16.73,7.2,6.9],[16.77,6.6,6.3],[16.81,6.0,5.7],[16.85,5.4,5.4],[16.89,5.0,5.2],[16.93,4.6,5.0],[16.97,4.0,4.7],[17.01,3.3,4.3],[17.05,2.6,4.0],[17.09,1.8,3.7],[17.13,1.1,3.6],[17.17,0.4,3.6],[17.21,0.2,3.9],[17.25,0.5,4.2],[18.16,13.9,13.6],[18.20,12.6,12.4],[18.24,11.6,11.5],[18.28,10.9,10.8]];
const spreadI = [[18.55,9.7,9.3],[18.59,9.9,9.0],[18.63,9.3,8.6],[18.67,8.3,7.8],[18.71,7.4,7.0],[18.75,6.5,6.2],[18.79,5.7,5.5],[18.83,5.0,5.0],[18.87,4.3,4.6],[18.91,3.5,4.3],[18.95,2.6,4.0],[18.99,1.7,3.8],[19.03,0.8,3.7],[19.07,0.3,3.9],[19.11,0.6,4.3],[20.07,12.9,12.7],[20.11,12.0,11.9],[20.15,11.2,11.1],[20.19,10.5,10.4],[20.51,4.8,4.7],[20.55,4.5,4.6],[20.59,4.4,4.7],[20.63,4.3,4.5],[20.67,4.1,4.3],[20.71,3.8,3.9],[20.75,3.2,3.4],[20.79,2.5,2.9],[20.83,1.7,2.5],[20.87,1.0,2.2],[20.91,0.5,2.3],[20.95,0.3,2.6],[20.99,0.5,3.0]];
const spreadJ = [[21.11,7.1,7.4],[21.15,7.9,8.0],[21.19,8.8,8.7],[21.23,9.6,9.3],[21.27,10.2,9.9],[21.85,15.0,14.8],[21.89,13.6,13.4],[21.93,12.3,12.2],[21.97,11.2,11.1],[22.01,10.3,10.2],[22.05,9.6,9.5],[22.10,9.0,9.0],[22.34,5.5,5.8],[22.38,5.1,5.3],[22.42,4.6,4.7],[22.46,4.2,4.2],[22.50,3.9,3.9],[22.54,3.7,3.8],[22.58,3.4,3.5],[22.62,2.7,3.2],[22.66,1.9,2.9],[22.70,1.2,2.8],[22.74,0.9,2.9],[22.78,1.0,3.3],[22.82,1.6,3.7],[22.86,2.4,4.1],[22.96,4.5,4.4],[23.00,5.3,5.2],[23.04,6.2,6.0],[23.08,7.2,7.0],[23.12,8.2,8.0],[23.16,9.2,9.0],[23.73,12.3,12.0],[23.77,11.5,11.3],[23.81,10.6,10.5],[23.85,9.9,9.8],[23.89,9.3,9.2],[23.93,8.9,8.8]];

// ---- build table ----
const passes = [pass01,pass02,pass02b,pass03,pass04,pass05,pass05b,pass06,pass07,pass08,pass08b,pass09,pass10,pass11,pass12,pass12b,pass13,pass14,pass15,pass15b,pass16,pass17,pass17b,pass18,pass19,pass19b,pass20,pass21,pass22,pass22b,pass23,pass24,pass24b,pass25,pass26,pass27,pass27b,pass28,pass29,pass29b,pass30,pass31,pass31b,pass32,
  spreadA,spreadB,spreadC,spreadD,spreadE,spreadF,spreadG,spreadH,spreadI,spreadJ];
const rows = passes.flat().map(([t, g, c]) => ({t, g, c}));

const W = 1178, H = 461;
const mL = 79, mR = 23, mT = 43, mB = 64;
const fw = W - mL - mR, fh = H - mT - mB;
const tickLen = 11;
const font = 23;

// MATLAB-like "x" marker as a custom stroked symbol
const symbolX = {
  draw(context, size) {
    const r = Math.sqrt(size / Math.PI);
    context.moveTo(-r, -r); context.lineTo(r, r);
    context.moveTo(r, -r); context.lineTo(-r, r);
  }
};

const chart = Plot.plot({
  width: W, height: H,
  marginLeft: mL, marginRight: mR, marginTop: mT, marginBottom: mB,
  x: {domain: [0, 25], axis: null},
  y: {domain: [-5, 45], axis: null},
  style: {fontFamily: '"Liberation Sans", Arial, sans-serif', fontSize: font + "px", background: "white", overflow: "visible"},
  marks: [
    Plot.dot(rows, {x: "t", y: "g", symbol: "circle", r: 3.6, stroke: "#0000ff", fill: "none", strokeWidth: 1.15, ariaLabel: "gnss"}),
    Plot.dot(rows, {x: "t", y: "c", symbol: symbolX, r: 3.4, stroke: "#000000", fill: "none", strokeWidth: 1.5, ariaLabel: "comb"}),
    // inward ticks on all four sides
    Plot.ruleX(xTicks, {x: d => d, stroke: "black", strokeWidth: 1, insetTop: fh - tickLen}),
    Plot.ruleX(xTicks, {x: d => d, stroke: "black", strokeWidth: 1, insetBottom: fh - tickLen}),
    Plot.ruleY(yTicks, {y: d => d, stroke: "black", strokeWidth: 1, insetRight: fw - tickLen}),
    Plot.ruleY(yTicks, {y: d => d, stroke: "black", strokeWidth: 1, insetLeft: fw - tickLen}),
    Plot.frame({stroke: "black", strokeWidth: 1.5}),
    // tick labels
    Plot.text(xTicks, {x: d => d, text: d => String(d), frameAnchor: "bottom", dy: 17, lineAnchor: "top", fill: "black", fontSize: font}),
    Plot.text(yTicks, {y: d => d, text: d => String(d), frameAnchor: "left", dx: -7, textAnchor: "end", lineAnchor: "middle", fill: "black", fontSize: font})
  ]
});

document.getElementById("chart").appendChild(chart);

// make sure the circles are hollow and the crosses are drawn above them
const svg = d3.select(chart);
svg.selectAll('g[aria-label="gnss"] circle, g[aria-label="gnss"] path').attr("fill", "none");
svg.select('g[aria-label="comb"]').each(function() {
  const gn = svg.select('g[aria-label="gnss"]').node();
  if (gn && gn.parentNode === this.parentNode) gn.parentNode.insertBefore(this, gn.nextSibling);
});

// ---- titles and legend ----
const ff = '"Liberation Sans", Arial, sans-serif';
svg.append("text").attr("x", mL + fw / 2).attr("y", 27).attr("text-anchor", "middle")
  .attr("font-family", ff).attr("font-size", 24).attr("fill", "black").text(titleText);
svg.append("text").attr("x", mL + fw / 2).attr("y", 454).attr("text-anchor", "middle")
  .attr("font-family", ff).attr("font-size", font).attr("fill", "black").text(xLabel);
svg.append("text").attr("transform", `translate(30,${mT + fh / 2}) rotate(-90)`).attr("text-anchor", "middle")
  .attr("font-family", ff).attr("font-size", font).attr("fill", "black").text(yLabel);

const lg = svg.append("g");
lg.append("rect").attr("x", 643.5).attr("y", 54.5).attr("width", 502).attr("height", 42)
  .attr("fill", "white").attr("stroke", "black").attr("stroke-width", 1.2);
lg.append("circle").attr("cx", 695).attr("cy", 75).attr("r", 3.6)
  .attr("fill", "none").attr("stroke", "#0000ff").attr("stroke-width", 1);
lg.append("path").attr("d", "M961,71L967,77M967,71L961,77").attr("stroke", "black").attr("stroke-width", 1).attr("fill", "none");
lg.append("text").attr("x", 741).attr("y", 83.5).attr("text-anchor", "start").attr("font-family", ff).attr("font-size", 24).attr("fill", "black").text(seriesNames[0]);
lg.append("text").attr("x", 1012).attr("y", 83.5).attr("text-anchor", "start").attr("font-family", ff).attr("font-size", 24).attr("fill", "black").text(seriesNames[1]);
</script>
</body>
</html>
